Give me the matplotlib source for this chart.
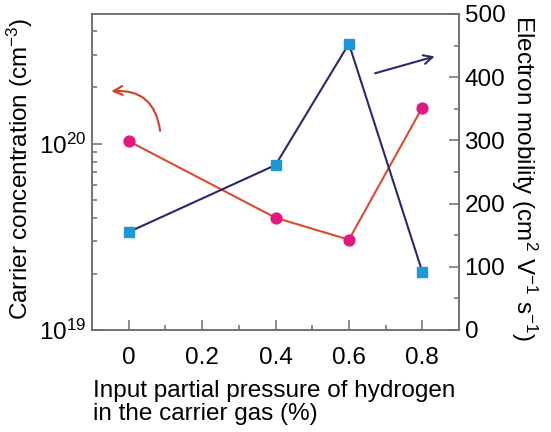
import matplotlib
matplotlib.use("Agg")
import matplotlib.pyplot as plt
from matplotlib.ticker import FixedLocator, MultipleLocator, LogLocator, NullFormatter

plt.rcParams['font.family'] = ['Liberation Sans', 'DejaVu Sans']
plt.rcParams['mathtext.fontset'] = 'custom'
plt.rcParams['mathtext.rm'] = 'Liberation Sans'
plt.rcParams['mathtext.it'] = 'Liberation Sans'

# 数据
pressure = [0, 0.4, 0.6, 0.8]
carrier = [1.03e20, 4.0e19, 3.05e19, 1.56e20]
mobility = [155, 261, 453, 92]

x_ticks = [0, 0.2, 0.4, 0.6, 0.8]
x_tick_labels = ['0', '0.2', '0.4', '0.6', '0.8']
left_ticks = [1e19, 1e20]
left_tick_labels = ['$10^{19}$', '$10^{20}$']
right_ticks = [0, 100, 200, 300, 400, 500]

red_line = '#de4a2c'
red_marker = '#e0187f'
blue_line = '#27296c'
blue_marker = '#1c98d8'
spine_gray = '#6e6e6e'
fs = 17.5

fig = plt.figure(figsize=(5.51, 4.32), dpi=100)
ax = fig.add_axes([92 / 551, 1 - 330 / 432, 367 / 551, 316 / 432])
ax2 = ax.twinx()

ax.plot(pressure, carrier, color=red_line, linewidth=1.5, marker='o',
        markersize=7.8, markerfacecolor=red_marker, markeredgecolor=red_marker, zorder=3)
ax2.plot(pressure, mobility, color=blue_line, linewidth=1.5, marker='s',
         markersize=7.8, markerfacecolor=blue_marker, markeredgecolor=blue_marker, zorder=3)

ax.set_yscale('log')
ax.set_xlim(-0.1, 0.9)
ax.set_ylim(1e19, 4.95e20)
ax2.set_ylim(0, 500)

ax.xaxis.set_major_locator(FixedLocator(x_ticks))
ax.set_xticklabels(x_tick_labels)
ax.xaxis.set_minor_locator(FixedLocator([0.1, 0.3, 0.5, 0.7]))
ax.yaxis.set_major_locator(FixedLocator(left_ticks))
ax.set_yticklabels(left_tick_labels)
ax.yaxis.set_minor_locator(LogLocator(base=10, subs=range(2, 10)))
ax.yaxis.set_minor_formatter(NullFormatter())
ax2.yaxis.set_major_locator(FixedLocator(right_ticks))
ax2.yaxis.set_minor_locator(MultipleLocator(50))

for a in (ax, ax2):
    for s in a.spines.values():
        s.set_color(spine_gray)
        s.set_linewidth(1.1)
    a.tick_params(which='major', direction='in', length=7, width=1.1, color=spine_gray,
                  labelsize=fs, pad=4)
    a.tick_params(which='minor', direction='in', length=3.5, width=1.1, color=spine_gray)
ax.tick_params(axis='x', pad=12)
ax2.tick_params(axis='y', pad=4)

ax.set_ylabel('Carrier concentration (cm$^{-3}$)', fontsize=fs)
ax.yaxis.set_label_coords(-0.155, 0.51)
ax2.set_ylabel('Electron mobility (cm$^{2}$ V$^{-1}$ s$^{-1}$)', fontsize=fs, rotation=270,
               va='center')
ax2.yaxis.set_label_coords(1.178, 0.48)

fig.text(93 / 551, 1 - 397 / 432, 'Input partial pressure of hydrogen',
         fontsize=fs, ha='left', va='baseline')
fig.text(93 / 551, 1 - 420 / 432, 'in the carrier gas (%)',
         fontsize=fs, ha='left', va='baseline')

# 箭头
ax.annotate('', xy=(-0.055, 1.9e20), xytext=(0.0865, 1.13e20),
            arrowprops=dict(arrowstyle='->', color='#d23e2c', lw=1.5,
                            connectionstyle='arc3,rad=0.5', mutation_scale=16))
ax2.annotate('', xy=(0.841, 434), xytext=(0.664, 405),
             arrowprops=dict(arrowstyle='->', color=blue_line, lw=1.5, mutation_scale=16))

fig.savefig('out.png', dpi=100)
